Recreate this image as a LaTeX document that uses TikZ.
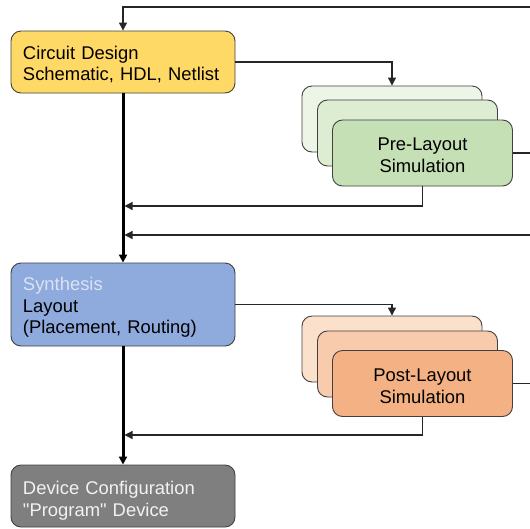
\documentclass[tikz,border=0pt]{standalone}
\usepackage{fontspec}
\setmainfont{Liberation Sans}[Ligatures=TeXOff]
\usetikzlibrary{arrows.meta}
\definecolor{boxline}{HTML}{404040}
\definecolor{cdyellow}{HTML}{FFD966}
\definecolor{synblue}{HTML}{8FAADC}
\definecolor{synlight}{HTML}{DAE3F3}
\definecolor{devgrey}{HTML}{7F7F7F}
\definecolor{devtext}{HTML}{F2F2F2}
\definecolor{grA}{HTML}{EDF5E7}
\definecolor{grB}{HTML}{DDEDD2}
\definecolor{grC}{HTML}{C5E0B4}
\definecolor{orA}{HTML}{FBE0CC}
\definecolor{orB}{HTML}{F8CBAD}
\definecolor{orC}{HTML}{F4B183}
\begin{document}
\begin{tikzpicture}[x=1pt,y=-1pt,
  box/.style={draw=boxline, line width=0.9pt, rounded corners=10pt, inner sep=0pt},
  lbl/.style={font=\fontsize{18.4}{21.5}\selectfont, inner sep=0pt},
  mainbox/.style={box, minimum width=224pt},
  maintext/.style={lbl, text width=200pt, align=left},
  simbox/.style={box, minimum width=180pt, minimum height=66pt},
  simtext/.style={lbl, align=center},
  thinline/.style={line width=1.2pt, draw=black!85},
  thickline/.style={line width=3pt, draw=black},
  tip/.style={-{Triangle[length=8pt,width=8pt]}},
]
\useasboundingbox (0,0) rectangle (530,528);

% main boxes
\node[mainbox, fill=cdyellow, minimum height=62pt] (cd) at (123,62) {};
\node[maintext] (cdtxt) at (123,64.5) {Circuit Design\\Schematic, HDL, Netlist};
\node[mainbox, fill=synblue, minimum height=83pt] (syn) at (123,304.5) {};
\node[maintext] (syntxt) at (123,307.5)
  {\textcolor{synlight}{Synthesis}\\Layout\\(Placement, Routing)};
\node[mainbox, fill=devgrey, minimum height=62pt] (dev) at (123,496) {};
\node[maintext, text=devtext] (devtxt) at (123,500.5)
  {Device Configuration\\"Program" Device};

% pre-layout stack
\node[simbox, fill=grA] (pre1) at (392,119) {};
\node[simbox, fill=grB] (pre2) at (407.5,133) {};
\node[simbox, fill=grC] (pre3) at (422.5,153) {};
\node[simtext] (pretxt) at (422.5,155.5) {Pre-Layout\\Simulation};

% post-layout stack
\node[simbox, fill=orA] (post1) at (392,349) {};
\node[simbox, fill=orB] (post2) at (407.5,364) {};
\node[simbox, fill=orC] (post3) at (422.5,383.5) {};
\node[simtext] (posttxt) at (422.5,386.5) {Post-Layout\\Simulation};

% free ends
\coordinate (topR) at (530,7);
\coordinate (preR) at (530,153);
\coordinate (r2) at (530,235);
\coordinate (postR) at (530,383.5);
\coordinate (j1) at (124.5,206);
\coordinate (j2) at (124.5,235);
\coordinate (j3) at (124.5,435);

% main flow
\draw[thickline, tip] (cd.south) -- (syn.north);
\draw[thickline, tip] (syn.south) -- (dev.north);

% thin connectors
\draw[thinline, tip] (topR) -| (cd.north);
\draw[thinline, tip] (cd.east) -| (pre1.north);
\draw[thinline] (pre3.east) -- (preR);
\draw[thinline, tip] (pre3.south) |- (j1);
\draw[thinline, tip] (r2) -- (j2);
\draw[thinline, tip] (syn.east) -| (post1.north);
\draw[thinline] (post3.east) -- (postR);
\draw[thinline, tip] (post3.south) |- (j3);
\end{tikzpicture}
\end{document}
